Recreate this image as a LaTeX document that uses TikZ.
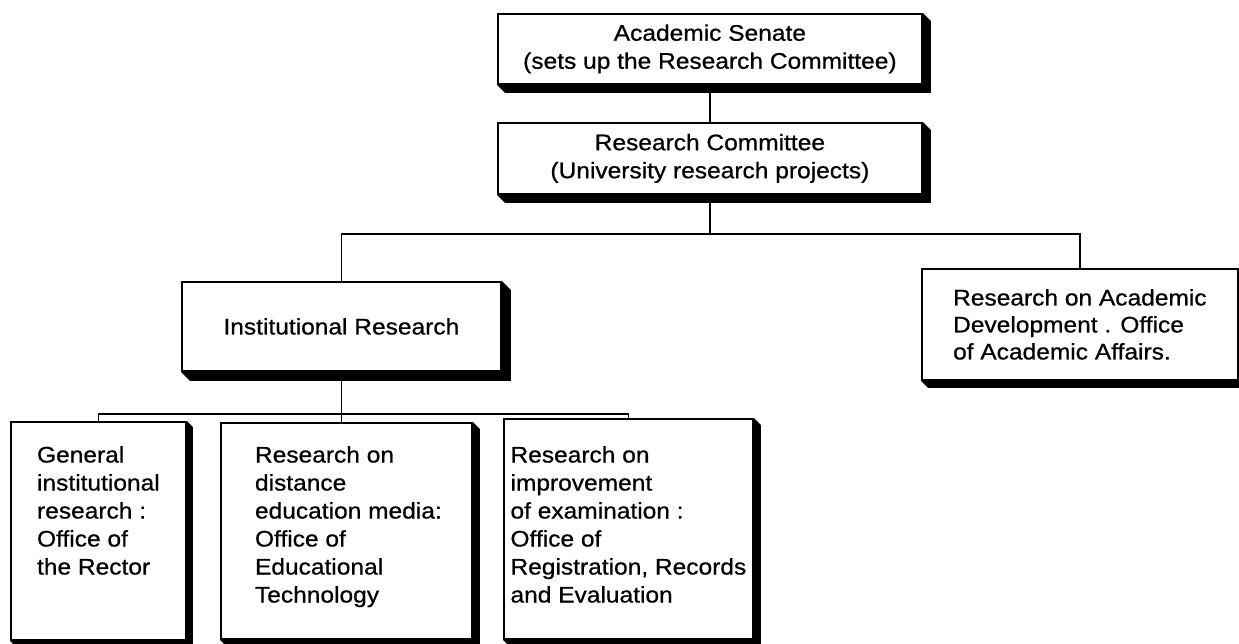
\documentclass[tikz,border=0pt]{standalone}
\usepackage{fontspec}
\setmainfont{Liberation Sans}[FakeStretch=1.09,FakeBold=0.7]
\usetikzlibrary{backgrounds,calc}
\begin{document}
\begin{tikzpicture}[x=1pt,y=-1pt,
  box/.style={draw=black, line width=1.8pt, fill=white, inner sep=0pt, anchor=north west, align=center, font=\fontsize{22.5}{28}\selectfont},
  txt/.style={inner sep=0pt, align=left, anchor=north, font=\fontsize{22.5}{28}\selectfont},
  conn/.style={line width=1.5pt},
  shadowfill/.style={fill=black}]
\useasboundingbox (0,0) rectangle (1239,644);
% boxes
\node[box, minimum width=424pt, minimum height=70pt] (senate) at (497,13) {Academic Senate\\(sets up the Research Committee)};
\node[box, minimum width=424pt, minimum height=71pt] (rc) at (497,122) {Research Committee\\(University research projects)};
\node[box, minimum width=319pt, minimum height=89pt] (ir) at (181,281) {Institutional Research};
\node[box, minimum width=316pt, minimum height=111pt, align=left, font=\fontsize{22.5}{27}\selectfont] (rb) at (921,268) {Research on Academic\\Development . Office\\of Academic Affairs.};
\node[box, minimum width=175pt, minimum height=218pt] (b1) at (10,421) {};
\node[box, minimum width=251pt, minimum height=216pt] (b2) at (220,422) {};
\node[box, minimum width=249pt, minimum height=220pt] (b3) at (503,418) {};
% texts of the lower boxes
\node[txt] (t1) at ($(b1.north)+(0,25)$) {General\\institutional\\research :\\Office of\\the Rector};
\node[txt] (t2) at ($(b2.north)+(2,24)$) {Research on\\distance\\education media:\\Office of\\Educational\\Technology};
\node[txt] (t3) at ($(b3.north)+(0,28)$) {Research on\\improvement\\of examination :\\Office of\\Registration, Records\\and Evaluation};
% shadows
\begin{scope}[on background layer]
\foreach \n/\d in {senate/8,rc/8,ir/9,rb/7,b1/6,b2/7,b3/7} {
  \fill[shadowfill] (\n.north east) -- ++(\d,\d) -- ($(\n.south east)+(\d,\d)$) -- ($(\n.south west)+(\d,\d)$) -- (\n.south west) -- cycle;
}
\end{scope}
% connectors
\coordinate (bus1) at (0,234);
\coordinate (bus2) at (0,414);
\draw[conn] (senate.south) -- (rc.north);
\draw[conn] (rc.south) -- (rc.south |- bus1);
\draw[conn] (ir.north) |- (rb.north |- bus1) -- (rb.north);
\draw[conn] (ir.south) -- (ir.south |- b2.north);
\draw[conn] (b1.north) |- (b3.north |- bus2) -- (b3.north);
\end{tikzpicture}
\end{document}
